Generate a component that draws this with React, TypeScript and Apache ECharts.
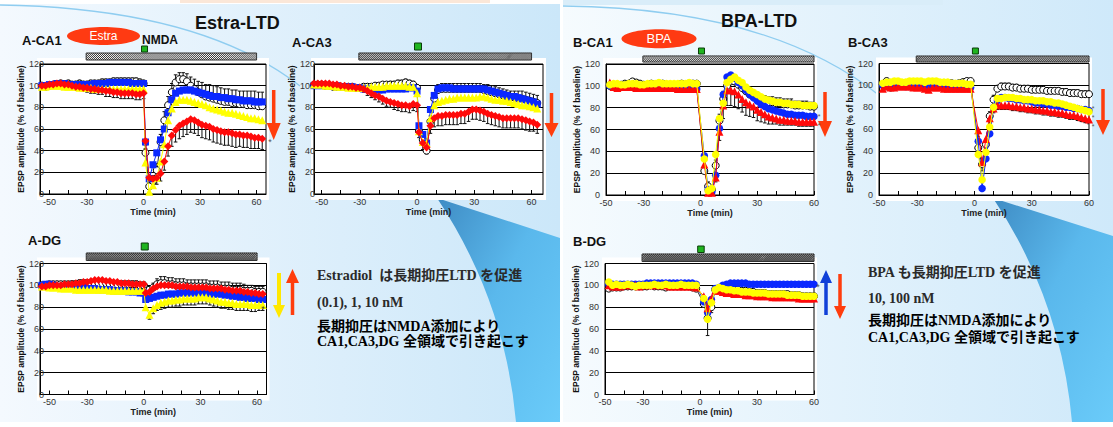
import React, { useEffect, useRef } from 'react';
import * as echarts from 'echarts';

// ---------------- DATA ----------------
const timesA = [-54,-52,-50,-48,-46,-44,-42,-40,-38,-36,-34,-32,-30,-28,-26,-24,-22,-20,-18,-16,-14,-12,-10,-8,-6,-4,-2,0,
  1,3,5,7,9,11,13,15,17,19,21,23,25,27,29,31,33,35,37,39,41,43,45,47,49,51,53,55,57,59,61,63];
const timesB = [-48,-46,-44,-42,-40,-38,-36,-34,-32,-30,-28,-26,-24,-22,-20,-18,-16,-14,-12,-10,-8,-6,-4,-2,
  2,4,6,8,10,12,14,16,18,20,22,24,26,28,30,32,34,36,38,40,42,44,46,48,50,52,54,56,58,60];

const xTicks = [-50,-40,-30,-20,-10,0,10,20,30,40,50,60];
const xTickLabels = [-50,-30,0,30,60];
const nmdaSpan = [-30.5, 60];
const nmdaTime = 0.5;

// A-CA1
const a1Ctrl = [100,99,100,101,101,102,101,102,101,101,102,101,101,102,102,102,103,103,103,104,104,104,104,104,104,104,103,102,
  38,7,12,22,48,68,82,94,103,106,106,104,100,97,94,92,90,89,88,87,86,85,85,84,84,83,83,82,82,82,81,81];
const a1Blue = [100,100,101,101,102,102,102,101,101,101,101,101,101,101,102,102,102,102,103,103,103,103,103,103,102,102,102,102,
  48,14,27,38,50,60,75,87,93,95,96,96,96,95,94,93,92,91,90,90,89,89,88,88,87,87,86,86,86,85,85,85];
const a1Yellow = [99,99,100,100,100,100,99,99,99,99,98,98,98,98,97,97,97,97,97,97,97,97,97,97,97,97,97,97,
  29,2,8,15,30,46,68,79,85,87,87,87,86,85,84,83,82,80,79,78,77,76,75,75,74,73,72,71,70,70,69,68];
const a1Red = [100,100,101,101,102,102,101,101,100,99,99,98,98,97,97,96,96,95,95,94,94,93,93,93,93,92,92,93,
  49,15,14,15,19,30,44,54,59,63,65,67,69,68,66,64,63,62,60,59,58,57,57,56,55,55,54,54,53,52,52,51];
const a1CtrlErr = [2,2,3,2,3,3,3,3,2,3,3,3,3,3,3,3,3,3,3,3,3,3,3,3,3,3,3,3,
  4,4,5,6,7,8,8,8,7,6,6,7,8,9,10,11,11,12,12,12,12,12,12,12,12,12,12,13,13,13,13,13];
const a1RedErr = [-2,-2,-2,-3,-3,-3,-3,-3,-3,-3,-3,-3,-4,-4,-4,-4,-4,-5,-5,-5,-5,-5,-5,-5,-5,-5,-5,-5,
  -4,-4,-5,-6,-7,-8,-9,-10,-11,-12,-12,-12,-12,-12,-12,-12,-12,-12,-12,-12,-12,-12,-12,-12,-12,-11,-11,-11,-11,-10,-10,-10];

// A-CA3
const a3Ctrl = [101,101,101,100,100,99,99,99,99,99,99,98,98,99,99,99,100,100,101,101,101,101,102,102,103,102,101,98,
  58,50,40,67,88,96,97,97,97,97,97,97,97,97,97,97,97,96,95,94,93,92,91,90,89,89,88,88,87,86,85,84];
const a3Blue = [100,100,100,100,100,100,100,99,99,99,99,98,98,97,97,96,96,96,96,97,97,97,97,97,97,98,98,95,
  63,55,47,78,91,97,98,98,98,97,97,97,97,97,97,97,97,97,96,95,94,93,92,91,90,90,89,88,87,86,85,83];
const a3Yellow = [101,101,101,100,100,100,99,99,99,98,98,98,98,98,98,99,99,99,99,100,100,100,100,100,100,99,99,93,
  58,48,47,70,82,85,86,87,88,88,89,89,89,89,89,89,90,90,89,88,87,87,86,86,85,84,83,82,82,81,80,79];
const a3Red = [102,102,102,102,102,101,101,100,100,99,99,98,98,97,95,93,91,90,88,86,85,84,83,82,82,81,83,82,
  57,47,43,63,70,72,72,73,73,73,73,74,74,76,78,78,77,76,74,73,72,71,70,70,70,70,70,69,68,67,66,64];
const a3CtrlErr = [2,2,2,2,2,2,2,2,2,2,2,2,2,2,2,2,2,2,2,2,3,3,3,3,3,3,3,3,
  4,4,4,5,5,5,5,5,5,5,5,5,5,5,5,5,5,5,6,6,6,6,6,6,6,6,7,7,7,7,7,7];
const a3RedErr = [-2,-2,-2,-2,-2,-2,-2,-2,-2,-3,-3,-3,-3,-3,-4,-4,-4,-5,-5,-5,-5,-6,-6,-6,-6,-6,-6,-6,
  -5,-6,-6,-7,-8,-9,-9,-9,-9,-9,-9,-9,-9,-9,-9,-9,-9,-9,-9,-9,-9,-9,-9,-9,-9,-9,-9,-9,-9,-9,-8,-8];

// A-DG
const dgACtrl = [100,100,101,101,101,101,101,101,101,101,102,102,102,102,102,102,102,102,101,101,101,101,101,101,101,101,100,100,
  95,96,98,101,102,102,101,101,100,100,100,99,99,99,99,99,99,98,98,98,97,97,97,96,96,96,95,95,95,94,94,94];
const dgABlue = [100,101,101,100,99,99,99,98,98,98,98,98,97,97,97,96,96,96,96,95,95,95,95,94,94,94,93,93,
  87,88,89,90,91,91,92,92,92,93,93,93,93,93,93,93,93,92,92,92,92,91,91,90,90,89,89,88,88,88,87,87];
const dgAYellow = [99,99,98,98,98,97,97,97,97,96,96,96,96,96,96,96,96,96,95,95,95,95,95,95,95,95,95,95,
  80,73,79,82,84,85,86,86,87,87,88,88,88,88,89,89,89,88,87,86,85,85,84,84,83,83,83,83,82,82,82,82];
const dgARed = [99,99,100,100,100,100,101,101,101,102,102,103,103,104,105,105,105,104,104,103,103,102,102,102,101,101,101,101,
  93,94,97,99,100,100,100,100,99,99,99,99,98,98,98,98,98,97,97,97,97,96,96,95,95,95,94,94,93,93,92,92];
const dgACtrlErr = [2,2,2,2,2,2,2,2,3,3,3,3,3,3,3,3,3,3,3,3,3,3,3,3,3,3,3,3,
  3,3,4,5,6,6,6,6,6,6,6,6,6,6,6,6,6,6,6,6,6,6,6,6,6,6,6,5,5,5,5,5];
const dgAYellowErr = [-2,-2,-2,-2,-2,-2,-2,-2,-2,-2,-2,-2,-2,-2,-2,-2,-2,-2,-2,-2,-2,-2,-2,-2,-2,-2,-2,-2,
  -3,-4,-5,-5,-6,-6,-6,-6,-6,-6,-6,-6,-6,-6,-6,-6,-6,-6,-6,-6,-6,-6,-6,-6,-6,-6,-6,-6,-6,-6,-5,-5];

// B-CA1
const b1Ctrl = [100,99,100,101,102,102,104,103,102,101,101,102,101,101,102,101,101,101,101,102,101,101,102,102,
  22,8,5,27,68,88,100,104,104,101,98,95,92,90,89,87,86,85,85,84,84,83,83,83,82,82,82,82,81,81];
const b1Blue = [100,100,99,100,101,101,100,100,100,100,99,99,99,99,99,99,99,99,98,98,98,98,97,97,
  36,5,3,18,61,92,108,110,107,103,100,96,92,89,86,83,81,79,78,77,76,75,74,74,73,73,73,72,72,72];
const b1Red = [103,99,98,99,99,99,99,98,98,98,98,98,98,98,98,98,98,98,97,97,97,97,97,97,
  28,2,2,16,58,82,96,96,95,92,88,85,83,81,78,76,74,72,71,70,69,69,68,68,68,67,67,67,67,67];
const b1Yellow = [101,102,102,101,101,102,102,102,101,101,102,102,102,103,102,102,102,102,102,102,102,103,102,102,
  33,4,6,37,70,84,103,106,108,105,103,99,96,94,92,90,88,87,86,85,85,84,84,83,83,83,82,82,82,82];
const b1CtrlErr = [2,2,2,2,2,2,2,2,2,2,2,2,2,2,2,2,2,2,2,2,2,2,2,2,
  4,4,3,5,6,7,6,6,6,6,6,6,6,5,5,5,5,5,5,5,5,5,5,5,4,4,4,4,4,4];
const b1RedErr = [-1,-1,-1,-1,-1,-1,-1,-1,-1,-1,-1,-1,-1,-1,-1,-1,-1,-1,-1,-1,-1,-1,-1,-1,
  -4,-2,-2,-4,-8,-12,-14,-14,-14,-13,-12,-12,-11,-10,-10,-9,-8,-7,-6,-5,-5,-5,-4,-4,-4,-4,-4,-4,-4,-4];

// B-CA3
const b3Ctrl = [101,104,98,101,101,102,102,103,103,102,103,102,103,101,99,100,102,101,102,101,102,103,104,104,
  43,28,46,72,87,97,99,99,99,98,98,97,97,97,96,96,96,96,95,95,95,95,94,94,93,93,93,92,92,92];
const b3Blue = [100,99,99,100,100,100,99,99,100,99,99,100,100,100,100,99,99,98,98,98,98,98,98,98,
  49,6,33,56,80,86,89,89,88,88,87,87,86,86,85,84,84,83,83,82,82,81,81,80,80,79,79,78,78,77];
const b3Red = [97,99,98,98,99,99,99,99,98,98,98,97,96,98,98,98,97,97,97,97,97,97,97,97,
  59,30,51,70,79,82,82,82,82,81,81,80,80,79,79,78,78,77,77,76,76,75,75,74,73,73,72,71,70,69];
const b3Yellow = [102,103,103,104,104,103,103,104,104,104,104,103,104,104,104,103,103,103,102,102,102,102,101,101,
  37,14,39,62,80,88,88,89,89,89,88,88,87,87,87,86,86,86,85,85,84,84,83,82,81,80,79,78,77,76];
const b3CtrlErr = [2,2,2,2,2,2,2,2,2,2,2,2,2,2,2,2,2,2,2,2,2,2,2,2,
  5,5,5,4,4,3,3,3,3,3,3,3,3,3,3,3,3,3,3,3,3,3,3,3,3,3,3,3,3,3];
const b3RedErr = [-1,-1,-1,-1,-1,-1,-1,-1,-1,-1,-1,-1,-1,-1,-1,-1,-1,-1,-1,-1,-1,-1,-1,-1,
  -6,-8,-6,-5,-4,-4,-4,-4,-4,-4,-4,-4,-4,-4,-4,-4,-4,-4,-4,-4,-4,-4,-4,-4,-4,-4,-4,-4,-4,-4];

// B-DG
const bdCtrl = [97,98,98,98,99,99,99,99,99,99,99,100,99,99,99,98,99,99,99,99,99,99,98,97,
  83,70,80,96,96,97,97,97,96,96,95,95,94,94,93,93,93,92,92,92,92,92,92,91,91,91,90,90,90,90];
const bdBlue = [101,101,101,101,101,101,101,101,101,101,102,102,102,102,102,102,102,102,102,102,102,102,102,101,
  85,75,87,97,98,100,101,102,102,102,102,102,101,101,101,101,101,101,101,101,101,101,101,101,101,101,101,101,101,101];
const bdRed = [100,99,99,99,100,100,100,100,99,100,100,100,100,100,100,100,99,99,99,99,99,99,99,98,
  90,79,88,95,95,94,93,93,92,92,92,91,91,91,90,90,90,90,89,89,89,89,89,89,89,88,88,88,88,88];
const bdYellow = [103,100,101,100,100,101,100,99,100,100,100,100,101,100,100,101,100,100,100,101,100,100,100,100,
  88,69,84,96,98,97,96,96,95,95,94,94,94,93,93,93,93,92,92,92,92,92,91,91,91,91,90,90,90,90];
const bdCtrlErr = [-1,-1,-1,-1,-1,-1,-1,-1,-1,-1,-1,-1,-1,-1,-1,-1,-1,-1,-1,-1,-1,-1,-1,-1,
  -3,-16,-5,-3,-3,-3,-3,-3,-3,-3,-3,-3,-3,-4,-4,-4,-4,-4,-4,-5,-5,-5,-5,-5,-5,-5,-5,-5,-5,-5];

// ---------------- PANELS ----------------
type Key = 'ctrl' | 'blue' | 'yellow' | 'red';
type Panel = {
  kind: 'A' | 'B';
  times: number[];
  ctrl: number[]; blue: number[]; yellow: number[]; red: number[];
  errs: { key: Key; err: number[] }[];
  order: Key[];
};

const panels: Panel[] = [
  { kind: 'A', times: timesA, ctrl: a1Ctrl, blue: a1Blue, yellow: a1Yellow, red: a1Red,
    errs: [{ key: 'ctrl', err: a1CtrlErr }, { key: 'red', err: a1RedErr }], order: ['ctrl', 'blue', 'yellow', 'red'] },
  { kind: 'A', times: timesA, ctrl: a3Ctrl, blue: a3Blue, yellow: a3Yellow, red: a3Red,
    errs: [{ key: 'ctrl', err: a3CtrlErr }, { key: 'red', err: a3RedErr }], order: ['ctrl', 'blue', 'yellow', 'red'] },
  { kind: 'B', times: timesB, ctrl: b1Ctrl, blue: b1Blue, yellow: b1Yellow, red: b1Red,
    errs: [{ key: 'ctrl', err: b1CtrlErr }, { key: 'red', err: b1RedErr }], order: ['ctrl', 'blue', 'red', 'yellow'] },
  { kind: 'B', times: timesB, ctrl: b3Ctrl, blue: b3Blue, yellow: b3Yellow, red: b3Red,
    errs: [{ key: 'ctrl', err: b3CtrlErr }, { key: 'red', err: b3RedErr }], order: ['ctrl', 'blue', 'red', 'yellow'] },
  { kind: 'A', times: timesA, ctrl: dgACtrl, blue: dgABlue, yellow: dgAYellow, red: dgARed,
    errs: [{ key: 'ctrl', err: dgACtrlErr }, { key: 'yellow', err: dgAYellowErr }], order: ['ctrl', 'blue', 'yellow', 'red'] },
  { kind: 'B', times: timesB, ctrl: bdCtrl, blue: bdBlue, yellow: bdYellow, red: bdRed,
    errs: [{ key: 'ctrl', err: bdCtrlErr }], order: ['ctrl', 'blue', 'red', 'yellow'] },
];

// layout (pixels)
const layouts = [
  { left: 40, top: 64, width: 226, height: 130, xMin: -55, xMax: 65, ylm: -4, yng: 10, bar: [53, 60], sq: [46, 52] },
  { left: 314, top: 64, width: 229, height: 130, xMin: -54, xMax: 66, ylm: -1, yng: 9, bar: [53, 60], sq: [43, 50] },
  { left: 606, top: 64, width: 208, height: 131, xMin: -50, xMax: 60, ylm: 6, yng: 20, bar: [56, 62], sq: [48, 54] },
  { left: 879, top: 63.5, width: 210, height: 131.5, xMin: -50, xMax: 60, ylm: 6, yng: 18, bar: [56, 62], sq: [48, 54] },
  { left: 40, top: 263.5, width: 226.5, height: 131, xMin: -55, xMax: 65, ylm: -4, yng: 9, bar: [253, 260.5], sq: [243, 250] },
  { left: 605, top: 263.5, width: 209, height: 131, xMin: -50, xMax: 60, ylm: 6, yng: 19, bar: [254, 261.5], sq: [246, 252.5] },
];

const SANS = '"Liberation Sans", Arial, sans-serif';
const JP = '"Liberation Serif", "Noto Sans CJK JP", serif';
const COL: Record<Key, string> = { blue: '#0a28ff', red: '#ff0a0a', yellow: '#ffff00', ctrl: '#ffffff' };

const symbolsA: Record<Key, string> = { ctrl: 'circle', blue: 'rect', yellow: 'triangle', red: 'diamond' };
const symbolsB: Record<Key, string> = { ctrl: 'circle', blue: 'circle', yellow: 'circle', red: 'triangle' };
const sizesA: Record<Key, number> = { ctrl: 7, blue: 7, yellow: 8, red: 8 };
const sizesB: Record<Key, number> = { ctrl: 7, blue: 7.5, yellow: 7.5, red: 8 };

const errRender = (params: any, api: any) => {
  const x = api.value(0), y = api.value(1), e = api.value(2);
  const a = api.coord([x, y]);
  const b = api.coord([x, Math.min(120, Math.max(0, y + e))]);
  return {
    type: 'group',
    children: [
      { type: 'line', shape: { x1: a[0], y1: a[1], x2: b[0], y2: b[1] }, style: { stroke: '#111', lineWidth: 1 } },
      { type: 'line', shape: { x1: b[0] - 1.8, y1: b[1], x2: b[0] + 1.8, y2: b[1] }, style: { stroke: '#111', lineWidth: 1 } },
    ],
  };
};

function buildOption() {
  const grid: any[] = [], xAxis: any[] = [], yAxis: any[] = [], series: any[] = [];
  panels.forEach((p, i) => {
    const L = layouts[i];
    grid.push({ left: L.left, top: L.top, width: L.width, height: L.height, show: true,
      backgroundColor: 'transparent', borderColor: '#000', borderWidth: 1, containLabel: false });
    xAxis.push({
      gridIndex: i, type: 'value', min: L.xMin, max: L.xMax,
      axisLine: { onZero: false, lineStyle: { color: '#000', width: 1 } },
      axisTick: { show: true, inside: true, length: 4, customValues: xTicks, lineStyle: { color: '#000' } },
      axisLabel: { customValues: xTickLabels, fontSize: 9, color: '#333', margin: 3, fontFamily: SANS },
      splitLine: { show: false },
      name: 'Time (min)', nameLocation: 'middle', nameGap: 13,
      nameTextStyle: { fontSize: 9, fontWeight: 'bold', color: '#222', fontFamily: SANS },
    });
    yAxis.push({
      gridIndex: i, type: 'value', min: 0, max: 120, interval: 20,
      axisLine: { show: true, onZero: false, lineStyle: { color: '#000', width: 1 } },
      axisTick: { show: false },
      axisLabel: { fontSize: 9, color: '#333', margin: L.ylm, fontFamily: SANS },
      splitLine: { show: true, lineStyle: { color: '#000', width: 1 } },
      name: 'EPSP amplitude (% of baseline)', nameLocation: 'middle', nameGap: L.yng, nameRotate: 90,
      nameTextStyle: { fontSize: 8.5, fontWeight: 'bold', color: '#111', fontFamily: SANS },
    });
    p.errs.forEach((e) => {
      const vals = p[e.key];
      series.push({
        type: 'custom', xAxisIndex: i, yAxisIndex: i, renderItem: errRender, silent: true, z: 1, clip: true,
        encode: { x: 0, y: 1 },
        data: p.times.map((t, k) => [t, vals[k], e.err[k]]),
      });
    });
    const syms = p.kind === 'A' ? symbolsA : symbolsB;
    const sizes = p.kind === 'A' ? sizesA : sizesB;
    p.order.forEach((key, j) => {
      const vals = p[key];
      const isCtrl = key === 'ctrl';
      series.push({
        type: 'line', xAxisIndex: i, yAxisIndex: i, silent: true, z: 3 + j,
        data: p.times.map((t, k) => [t, vals[k]]),
        symbol: syms[key], symbolSize: sizes[key], showSymbol: true,
        itemStyle: { color: COL[key], borderColor: isCtrl ? '#000' : COL[key], borderWidth: isCtrl ? 1 : 0 },
        lineStyle: { color: isCtrl ? '#000' : COL[key], width: isCtrl ? 0.8 : 1 },
        emphasis: { disabled: true },
      });
    });
  });
  return { animation: false, backgroundColor: '#ffffff', grid, xAxis, yAxis, series };
}

function hatchPath(W: number, H: number, step: number) {
  let d = '';
  for (let i = -H; i < W; i += step) {
    const s0 = Math.max(0, -i / H), s1 = Math.min(1, (W - i) / H);
    if (s1 <= s0) continue;
    const xa = i + H * s0, ya = H - H * s0, xb = i + H * s1, yb = H - H * s1;
    d += `M${xa.toFixed(2)} ${ya.toFixed(2)}L${xb.toFixed(2)} ${yb.toFixed(2)}`;
  }
  return d;
}

let registered = false;
function registerShapes() {
  if (registered) return;
  registered = true;
  echarts.graphic.registerShape('hatch', echarts.graphic.extendPath(hatchPath(172, 7, 2), {}) as any);
  echarts.graphic.registerShape('swooshL', echarts.graphic.extendPath('M437 198Q505 300 516 422L560 422L560 238Z', {}) as any);
  echarts.graphic.registerShape('swooshR', echarts.graphic.extendPath('M993 198Q1061 300 1072 422L1113 422L1113 236Z', {}) as any);
}

function txt(text: string, x: number, y: number, font: string, fill = '#111', align = 'left', z = 100) {
  const style: any = { text, font, fill, align, verticalAlign: 'middle', textAlign: align, textVerticalAlign: 'middle' };
  return { type: 'text', x, y, z, silent: true, style };
}

function arrow(cx: number, y1: number, y2: number, dir: 'up' | 'down', color: string, hw: number, hl: number, sw: number) {
  const h = hw / 2, s = sw / 2;
  const pts = dir === 'down'
    ? [[cx - s, y1], [cx + s, y1], [cx + s, y2 - hl], [cx + h, y2 - hl], [cx, y2], [cx - h, y2 - hl], [cx - s, y2 - hl]]
    : [[cx - s, y2], [cx + s, y2], [cx + s, y1 + hl], [cx + h, y1 + hl], [cx, y1], [cx - h, y1 + hl], [cx - s, y1 + hl]];
  return { type: 'polygon', z: 100, silent: true, shape: { points: pts }, style: { fill: color } };
}

function buildGraphics(chart: any) {
  const g: any[] = [];
  const swooshGrad = () => new echarts.graphic.LinearGradient(0, 0, 1, 1, [
    { offset: 0, color: '#3f8cc4' }, { offset: 0.45, color: '#5ab8ec' }, { offset: 1, color: '#6acbf9' },
  ]);
  // backgrounds
  g.push({ type: 'rect', z: -20, silent: true, shape: { x: 0, y: 0, width: 560, height: 427 },
    style: { fill: new echarts.graphic.LinearGradient(0, 0, 1, 0, [{ offset: 0, color: '#f4f9fe' }, { offset: 1, color: '#cbe7f9' }]) } });
  g.push({ type: 'rect', z: -20, silent: true, shape: { x: 563, y: 0, width: 550, height: 427 },
    style: { fill: new echarts.graphic.LinearGradient(0, 0, 1, 0, [{ offset: 0, color: '#f6fbfe' }, { offset: 1, color: '#cfe9fa' }]) } });
  g.push({ type: 'rect', z: -19, silent: true, shape: { x: 0, y: 0, width: 560, height: 4 }, style: { fill: '#ffffff' } });
  g.push({ type: 'rect', z: -19, silent: true, shape: { x: 180, y: 0, width: 310, height: 3 }, style: { fill: '#fbe7d8' } });
  g.push({ type: 'rect', z: -19, silent: true, shape: { x: 563, y: 0, width: 380, height: 5 }, style: { fill: '#d9edf9' } });
  g.push({ type: 'swooshL', z: -18, silent: true, x: 0, y: 0, style: { fill: swooshGrad() } });
  g.push({ type: 'swooshR', z: -18, silent: true, x: 0, y: 0, style: { fill: swooshGrad() } });
  g.push({ type: 'rect', z: -17, silent: true, shape: { x: 0, y: 422, width: 1113, height: 5 }, style: { fill: '#ffffff' } });
  g.push({ type: 'bezierCurve', z: -17, silent: true, shape: { x1: 0, y1: 5, cpx1: 200, cpy1: 8, x2: 300, y2: 86 },
    style: { stroke: '#8fcdf0', lineWidth: 1.3, fill: 'none' } });
  g.push({ type: 'bezierCurve', z: -17, silent: true, shape: { x1: 563, y1: 6, cpx1: 770, cpy1: 8, x2: 880, y2: 96 },
    style: { stroke: '#8fcdf0', lineWidth: 1.3, fill: 'none' } });

  // white plot backs, hatched bars, NMDA squares
  layouts.forEach((L, i) => {
    g.push({ type: 'rect', z: -10, silent: true,
      shape: { x: L.left - 3, y: L.top - 6, width: L.width + 6, height: L.height + 12 }, style: { fill: '#ffffff' } });
    const x0 = chart.convertToPixel({ gridIndex: i }, [nmdaSpan[0], 0])[0];
    const x1 = chart.convertToPixel({ gridIndex: i }, [nmdaSpan[1], 0])[0];
    const bw = x1 - x0, bh = L.bar[1] - L.bar[0];
    g.push({ type: 'rect', z: 100, silent: true, shape: { x: x0, y: L.bar[0], width: bw, height: bh },
      style: { fill: '#ffffff', stroke: '#333', lineWidth: 1 } });
    g.push({ type: 'hatch', z: 101, silent: true, x: x0, y: L.bar[0], scaleX: bw / 172, scaleY: bh / 7,
      style: { fill: 'none', stroke: '#333', lineWidth: 1 } });
    const xs = chart.convertToPixel({ gridIndex: i }, [nmdaTime, 0])[0];
    const sh = L.sq[1] - L.sq[0];
    g.push({ type: 'rect', z: 100, silent: true, shape: { x: xs - sh / 2, y: L.sq[0], width: sh, height: sh },
      style: { fill: '#1fb51f', stroke: '#0b3d0b', lineWidth: 1 } });
  });

  // titles
  g.push(txt('Estra-LTD', 195, 23, `bold 18px ${SANS}`));
  g.push(txt('BPA-LTD', 721, 21, `bold 18px ${SANS}`));
  g.push(txt('A-CA1', 22, 40, `bold 13px ${SANS}`));
  g.push(txt('A-CA3', 292, 42, `bold 13px ${SANS}`));
  g.push(txt('B-CA1', 573, 42.5, `bold 13px ${SANS}`));
  g.push(txt('B-CA3', 848, 42.5, `bold 13px ${SANS}`));
  g.push(txt('A-DG', 28, 240, `bold 13px ${SANS}`));
  g.push(txt('B-DG', 573, 241.5, `bold 13px ${SANS}`));
  g.push(txt('NMDA', 142, 40, `bold 12px ${SANS}`));
  g.push({ type: 'ellipse', z: 99, silent: true, shape: { cx: 103.5, cy: 36, rx: 36.5, ry: 9 }, style: { fill: '#ff3a12' } });
  g.push(txt('Estra', 103.5, 35.5, `12px ${SANS}`, '#ffffff', 'center'));
  g.push({ type: 'ellipse', z: 99, silent: true, shape: { cx: 659, cy: 38.8, rx: 37.5, ry: 9.5 }, style: { fill: '#ff3a12' } });
  g.push(txt('BPA', 659, 38.5, `13px ${SANS}`, '#ffffff', 'center'));

  // arrows
  g.push(arrow(273.7, 90, 140, 'down', '#ff3d0d', 14, 17, 3.5));
  g.push(arrow(551.5, 93, 137, 'down', '#ff3d0d', 14, 14, 3.5));
  g.push(arrow(825, 92, 137, 'down', '#ff3d0d', 14, 16, 3.5));
  g.push(arrow(1103, 89, 135, 'down', '#ff3d0d', 14, 15, 3.5));
  g.push(arrow(279, 273, 318, 'down', '#ffe800', 12, 13, 4));
  g.push(arrow(292.5, 269, 315, 'up', '#ff3d0d', 13, 14, 3.5));
  g.push(arrow(826, 270, 315, 'up', '#1040d8', 12, 13, 3.5));
  g.push(arrow(840, 274, 319, 'down', '#ff3d0d', 12, 13, 3.5));

  // asterisks (small, stacked without overlapping boxes)
  const ast = `7px ${SANS}`;
  g.push(txt('*', 270, 142, `9px ${SANS}`, '#555', 'center'));
  g.push(txt('*', 819, 116, ast, '#555', 'center'));
  g.push(txt('*', 819, 125, ast, '#555', 'center'));
  g.push(txt('*', 1093, 108, ast, '#555', 'center'));
  g.push(txt('*', 1093, 117, ast, '#555', 'center'));
  g.push(txt('*', 1093, 126, ast, '#555', 'center'));
  g.push(txt('*', 818, 287, `9px ${SANS}`, '#555', 'center'));
  g.push(txt('*', 263, 309, `9px ${SANS}`, '#333', 'center'));

  // text blocks
  const f = `bold 14px ${JP}`;
  g.push(txt('Estradiol  は長期抑圧LTD を促進', 317, 275, f, '#2a2a2a'));
  g.push(txt('(0.1), 1, 10 nM', 317, 302, f, '#2a2a2a'));
  g.push(txt('長期抑圧はNMDA添加により', 317, 326, f, '#000'));
  g.push(txt('CA1,CA3,DG 全領域で引き起こす', 317, 341.5, f, '#000'));
  g.push(txt('BPA も長期抑圧LTD を促進', 868, 272, f, '#2a2a2a'));
  g.push(txt('10, 100 nM', 868, 298.5, f, '#2a2a2a'));
  g.push(txt('長期抑圧はNMDA添加により', 868, 320, f, '#000'));
  g.push(txt('CA1,CA3,DG 全領域で引き起こす', 868, 337.5, f, '#000'));
  return g;
}

export default function App() {
  const ref = useRef<HTMLDivElement>(null);
  useEffect(() => {
    if (!ref.current) return;
    registerShapes();
    const chart = echarts.init(ref.current, null, { renderer: 'svg', width: 1113, height: 427 });
    chart.setOption(buildOption() as any);
    chart.setOption({ graphic: buildGraphics(chart) } as any);
    return () => chart.dispose();
  }, []);
  return <div ref={ref} style={{ position: 'fixed', left: 0, top: 0, width: 1113, height: 427 }} />;
}
